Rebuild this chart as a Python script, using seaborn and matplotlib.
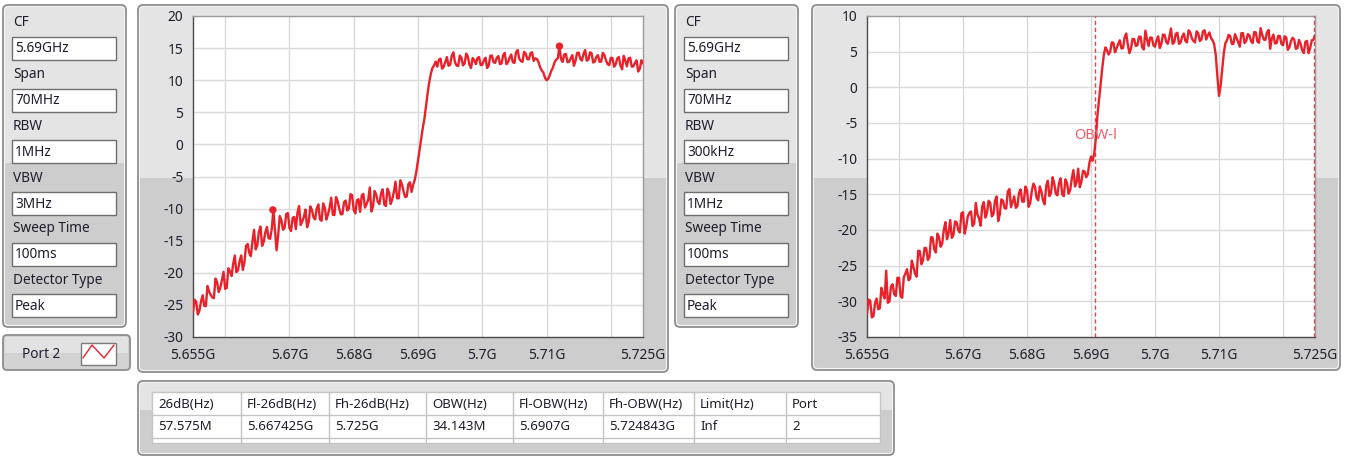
import numpy as np
import pandas as pd
import matplotlib
matplotlib.use("Agg")
import matplotlib.pyplot as plt
from matplotlib.patches import FancyBboxPatch, Rectangle
import seaborn as sns

# ---------------- data ----------------
# sweep: 5.655 GHz .. 5.725 GHz, 281 points (0.25 MHz step)
start_ghz = 5.655
stop_ghz = 5.725

# Port 2 trace, RBW 1 MHz / VBW 3 MHz (dBm): points on the 0.5 MHz grid ...
level_rbw_1m = [
    -26.1, -24.5, -25.9, -23.5, -25.2, -22.9, -23.8, -20.9, -23.0, -21.1,
    -22.5, -19.3, -20.5, -17.3, -19.6, -17.3, -18.4, -15.5, -17.4, -13.3,
    -15.7, -12.8, -15.2, -12.85, -14.7, -10.2, -16.5, -11.15, -13.3, -10.85,
    -13.0, -11.45, -13.2, -9.6, -12.0, -10.15, -12.1, -10.2, -11.7, -9.35,
    -11.9, -9.85, -10.9, -8.3, -11.0, -8.85, -10.9, -9.0, -10.3, -7.75,
    -10.2, -8.7, -10.5, -7.7, -9.3, -6.7, -9.7, -7.8, -9.3, -7.0,
    -9.6, -7.5, -8.5, -5.8, -8.4, -6.2, -8.2, -6.2, -7.4, -5.5,
    -2.5, 1.0, 4.0, 8.0, 11.0, 12.3, 12.1, 13.35, 12.1, 13.6,
    12.4, 14.35, 12.3, 13.85, 12.3, 14.15, 12.4, 13.45, 12.5, 13.6,
    12.4, 13.5, 12.3, 13.85, 12.7, 13.75, 12.6, 14.25, 12.8, 14.0,
    12.7, 14.7, 13.0, 14.4, 13.3, 14.2, 13.0, 13.3, 12.0, 11.2,
    10.0, 10.8, 12.0, 13.2, 15.3, 12.85, 14.1, 12.85, 13.9, 13.0,
    14.3, 13.05, 14.7, 13.2, 14.2, 12.9, 13.9, 12.9, 13.9, 12.5,
    13.5, 12.1, 13.4, 12.25, 13.8, 12.15, 13.5, 12.15, 13.1, 11.75,
    12.6,
]
# ... and the points between them
level_rbw_1m_half = [
    -24.2, -26.5, -24.45, -25.15, -22.05, -23.45, -23.95, -21.45, -22.35, -19.85,
    -22.35, -19.75, -18.6, -19.9, -18.15, -19.55, -15.8, -16.9, -15.05, -16.35,
    -13.6, -15.8, -13.7, -14.6, -13.2, -13.3, -14.1, -11.8, -13.0, -10.7,
    -13.5, -11.3, -10.65, -12.55, -11.3, -12.9, -9.65, -11.35, -10.0, -11.7,
    -9.2, -11.7, -9.85, -10.95, -8.2, -10.0, -10.85, -8.75, -10.0, -7.9,
    -10.75, -8.55, -7.95, -9.85, -8.65, -10.45, -7.25, -8.95, -7.65, -9.35,
    -6.9, -9.3, -7.4, -8.4, -5.6, -7.3, -8.1, -5.9, -6.3, -4.2,
    -0.8, 2.6, 6.0, 9.7, 11.9, 12.9, 13.2, 11.8, 12.85, 12.25,
    13.8, 12.8, 12.2, 13.5, 12.6, 13.7, 11.9, 13.1, 13.45, 12.35,
    13.1, 11.9, 13.8, 12.8, 13.5, 12.5, 13.9, 12.5, 13.5, 12.8,
    14.35, 13.35, 12.85, 14.15, 13.25, 14.35, 13.4, 12.8, 11.5, 10.4,
    10.2, 11.5, 12.8, 13.4, 13.3, 14.0, 12.8, 13.4, 12.25, 14.25,
    13.3, 14.1, 13.05, 14.35, 12.75, 13.65, 12.85, 14.25, 13.05, 12.35,
    13.45, 12.45, 13.6, 11.7, 13.05, 13.4, 12.1, 12.7, 11.35, 13.1,
]

# Port 2 trace, RBW 300 kHz / VBW 1 MHz (dBm): points on the 0.5 MHz grid ...
level_rbw_300k = [
    -31.8, -29.9, -32.1, -29.6, -31.0, -29.0, -25.7, -30.05, -27.6, -29.25,
    -26.7, -29.5, -26.1, -27.05, -24.3, -26.1, -22.9, -24.8, -22.5, -24.2,
    -21.0, -22.7, -20.5, -22.35, -20.0, -21.3, -18.6, -20.75, -18.9, -20.35,
    -17.5, -19.55, -17.6, -19.45, -16.2, -18.35, -16.7, -18.25, -15.9, -18.1,
    -15.9, -18.75, -15.7, -16.95, -14.6, -16.8, -15.3, -16.65, -14.3, -16.05,
    -14.4, -16.2, -13.5, -15.5, -13.9, -15.85, -13.8, -15.25, -12.6, -14.9,
    -13.4, -15.0, -12.9, -14.9, -12.8, -13.9, -11.4, -13.25, -11.8, -12.2,
    -9.7, -9.3, -4.0, 0.5, 4.5, 5.2, 5.0, 6.25, 5.5, 6.6,
    5.5, 7.55, 4.8, 6.8, 5.8, 7.1, 5.6, 7.95, 5.8, 6.95,
    5.7, 7.15, 6.1, 7.35, 6.1, 8.25, 6.3, 7.65, 6.3, 7.55,
    6.3, 7.7, 6.5, 7.85, 6.5, 7.85, 6.7, 7.7, 6.6, 4.5,
    -1.2, 2.5, 6.2, 7.35, 6.1, 7.45, 6.3, 7.6, 6.2, 7.45,
    6.5, 7.75, 6.4, 8.3, 6.7, 7.7, 5.4, 7.4, 6.2, 7.2,
    5.9, 7.0, 5.6, 6.95, 5.4, 6.65, 5.2, 6.4, 4.8, 6.6,
    7.3,
]
# ... and the points between them
level_rbw_300k_half = [
    -29.75, -32.25, -30.3, -31.1, -28.1, -29.6, -30.2, -27.9, -29.0, -26.7,
    -29.3, -26.6, -25.5, -26.8, -25.15, -26.55, -22.95, -24.25, -22.55, -23.85,
    -21.05, -23.15, -21.0, -21.9, -18.9, -20.4, -21.1, -18.8, -20.0, -17.7,
    -20.5, -18.1, -17.4, -19.1, -17.8, -19.4, -16.1, -17.6, -16.2, -17.8,
    -15.3, -17.8, -15.9, -17.0, -14.25, -16.05, -16.9, -14.8, -16.0, -13.9,
    -16.75, -14.55, -13.95, -15.85, -14.6, -16.4, -13.1, -14.8, -13.45, -15.15,
    -12.75, -15.25, -13.4, -14.4, -11.6, -13.3, -14.0, -11.7, -12.6, -10.6,
    -10.3, -7.2, -1.8, 2.6, 5.6, 4.6, 6.3, 4.9, 6.05, 5.45,
    7.0, 6.0, 5.45, 6.75, 5.9, 7.1, 5.3, 6.7, 7.0, 5.9,
    6.6, 5.5, 7.4, 6.4, 7.1, 6.1, 7.5, 6.1, 7.1, 6.5,
    8.0, 6.9, 6.3, 7.6, 6.7, 8.0, 7.3, 6.9, 6.0, 1.5,
    0.2, 4.8, 6.6, 7.2, 6.1, 6.9, 5.7, 7.6, 6.5, 7.3,
    6.2, 7.7, 6.25, 7.35, 6.65, 8.05, 6.85, 6.15, 7.2, 6.1,
    7.15, 5.25, 6.5, 6.7, 5.5, 6.1, 4.8, 6.5, 5.5, 6.65,
]

# peak markers on the RBW 1 MHz trace
marker_freq = [5.667425, 5.712]
marker_level = [-10.2, 15.3]

# occupied-bandwidth limits
obw_low_ghz = 5.6907
obw_high_ghz = 5.724843
obw_label_level = -6.7

x_ticks = [5.655, 5.66, 5.67, 5.68, 5.69, 5.70, 5.71, 5.72, 5.725]
x_tick_labels = ["5.655G", "", "5.67G", "5.68G", "5.69G", "5.7G", "5.71G", "", "5.725G"]
x_grid = [5.66, 5.67, 5.68, 5.69, 5.70, 5.71, 5.72]
y_ticks_1 = [20, 15, 10, 5, 0, -5, -10, -15, -20, -25, -30]
y_ticks_2 = [10, 5, 0, -5, -10, -15, -20, -25, -30, -35]

setting_names = ["CF", "Span", "RBW", "VBW", "Sweep Time", "Detector Type"]
settings_1 = ["5.69GHz", "70MHz", "1MHz", "3MHz", "100ms", "Peak"]
settings_2 = ["5.69GHz", "70MHz", "300kHz", "1MHz", "100ms", "Peak"]

table_header = ["26dB(Hz)", "Fl-26dB(Hz)", "Fh-26dB(Hz)", "OBW(Hz)",
                "Fl-OBW(Hz)", "Fh-OBW(Hz)", "Limit(Hz)", "Port"]
table_row = ["57.575M", "5.667425G", "5.725G", "34.143M",
             "5.6907G", "5.724843G", "Inf", "2"]

# ---------------- style ----------------
sns.set_theme(style="white")
plt.rcParams["font.family"] = ["Noto Sans", "DejaVu Sans"]
plt.rcParams["axes.unicode_minus"] = False

TRACE = "#e8212b"
TEXT = "#1d1d2e"
FS = 9.8
FS_TABLE = 9.5
FS_TICK = 9.9

W, H = 1346, 457
fig = plt.figure(figsize=(W / 100, H / 100), dpi=100)
fig.patch.set_facecolor("white")

bg = fig.add_axes([0, 0, 1, 1])
bg.set_xlim(0, W)
bg.set_ylim(H, 0)
bg.axis("off")


def rect_px(l, t, r, b):
    return [l / W, 1 - b / H, (r - l) / W, (b - t) / H]


def panel(x0, y0, x1, y1, split, light="#e4e4e4", dark="#cdcdcd"):
    bg.add_patch(FancyBboxPatch((x0, y0), x1 - x0, y1 - y0,
                                boxstyle="round,pad=0,rounding_size=5",
                                fc=dark, ec="#8e8e8e", lw=1.3, zorder=1))
    bg.add_patch(Rectangle((x0 + 2, y0 + 2), x1 - x0 - 4, split - y0 - 2,
                           fc=light, ec="none", zorder=1.1))
    bg.add_patch(FancyBboxPatch((x0 + 1.5, y0 + 1.5), x1 - x0 - 3, y1 - y0 - 3,
                                boxstyle="round,pad=0,rounding_size=4",
                                fc="none", ec="#f4f4f4", lw=0.8, zorder=1.2))


def settings_panel(x0, values):
    panel(x0, 5, x0 + 123, 327, 163)
    label_y = [23, 75, 126, 178, 229, 280]
    for name, val, ly in zip(setting_names, values, label_y):
        bg.text(x0 + 10, ly, name, fontsize=FS, color=TEXT, va="center", ha="left", zorder=3)
        bg.add_patch(Rectangle((x0 + 9, ly + 14), 104, 23, fc="white",
                               ec="#6f6f6f", lw=1.0, zorder=2))
        bg.text(x0 + 12, ly + 26, val, fontsize=FS, color=TEXT, va="center", ha="left", zorder=3)


# left settings, port legend button, right settings
settings_panel(3, settings_1)
settings_panel(675, settings_2)

bg.add_patch(FancyBboxPatch((3, 335), 127, 35, boxstyle="round,pad=0,rounding_size=4",
                            fc="#d3d3d3", ec="#8e8e8e", lw=1.3, zorder=1))
bg.add_patch(Rectangle((5, 337), 123, 16, fc="#e2e2e2", ec="none", zorder=1.1))
bg.text(22, 354, "Port 2", fontsize=FS, color=TEXT, va="center", ha="left", zorder=3)
bg.add_patch(Rectangle((81, 343), 35, 22, fc="white", ec="#7a7a7a", lw=1.0, zorder=2))
bg.plot([83, 92, 104, 114], [358, 345, 358, 345], color=TRACE, lw=1.0, zorder=3)

# graph frames
panel(138, 5, 668, 372, 178)
panel(812, 5, 1340, 370, 178)

# results table
panel(138, 381, 894, 455, 410)
col_edges = [152, 241, 329, 426, 513, 603, 694, 786, 880]
bg.add_patch(Rectangle((152, 392), 728, 51, fc="white", ec="#c4c4c4", lw=1.0, zorder=2))
for yl in [415, 438]:
    bg.plot([152, 880], [yl, yl], color="#c4c4c4", lw=1.0, zorder=2.5)
for xe in col_edges[1:-1]:
    bg.plot([xe, xe], [392, 443], color="#c4c4c4", lw=1.0, zorder=2.5)
for i, (hd, val) in enumerate(zip(table_header, table_row)):
    bg.text(col_edges[i] + 6, 404, hd, fontsize=FS_TABLE, color=TEXT, va="center", ha="left", zorder=3)
    bg.text(col_edges[i] + 6, 427, val, fontsize=FS_TABLE, color=TEXT, va="center", ha="left", zorder=3)


# ---------------- spectrum graphs ----------------
def full_sweep(grid_levels, half_levels):
    levels = np.empty(len(grid_levels) + len(half_levels))
    levels[0::2] = grid_levels
    levels[1::2] = half_levels
    freq = np.linspace(start_ghz, stop_ghz, len(levels))
    return pd.DataFrame({"freq": freq, "level": levels})


def style_axes(ax, yticks):
    ax.set_facecolor("white")
    ax.set_xlim(start_ghz, stop_ghz)
    ax.set_ylim(yticks[-1], yticks[0])
    ax.set_xticks(x_ticks)
    ax.set_xticklabels(x_tick_labels)
    ax.set_yticks(yticks)
    ax.set_yticklabels([str(v) for v in yticks])
    for v in x_grid:
        ax.axvline(v, color="#dadada", lw=1.0, zorder=0.5)
    for v in yticks[1:-1]:
        ax.axhline(v, color="#dadada", lw=1.0, zorder=0.5)
    ax.grid(False)
    ax.tick_params(axis="both", direction="out", length=5, width=1.0,
                   color="#3a3a3a", labelsize=FS_TICK, labelcolor=TEXT, pad=2)
    ax.tick_params(axis="x", length=6, pad=2)
    for side in ["top", "right"]:
        ax.spines[side].set_color("#9a9a9a")
        ax.spines[side].set_linewidth(1.0)
    for side in ["left", "bottom"]:
        ax.spines[side].set_color("#4a4a4a")
        ax.spines[side].set_linewidth(1.0)
    ax.set_xlabel("")
    ax.set_ylabel("")


ax1 = fig.add_axes(rect_px(193, 16, 643, 337))
sns.lineplot(data=full_sweep(level_rbw_1m, level_rbw_1m_half), x="freq", y="level",
             ax=ax1, color=TRACE, lw=1.7, estimator=None, sort=False, zorder=3)
sns.scatterplot(x=marker_freq, y=marker_level, ax=ax1, color=TRACE, s=28,
                edgecolor="none", zorder=4)
style_axes(ax1, y_ticks_1)

ax2 = fig.add_axes(rect_px(867, 16, 1315, 337))
sns.lineplot(data=full_sweep(level_rbw_300k, level_rbw_300k_half), x="freq", y="level",
             ax=ax2, color=TRACE, lw=1.7, estimator=None, sort=False, zorder=3)
for f in [obw_low_ghz, obw_high_ghz]:
    ax2.axvline(f, color="#e8404a", lw=1.0, ls=(0, (3, 2)), zorder=2.8)
ax2.text(obw_low_ghz, obw_label_level, "OBW-l", color="#ee5f6a", fontsize=10.5,
         ha="center", va="center", zorder=5)
style_axes(ax2, y_ticks_2)

fig.savefig("out.png", dpi=100, facecolor="white")
